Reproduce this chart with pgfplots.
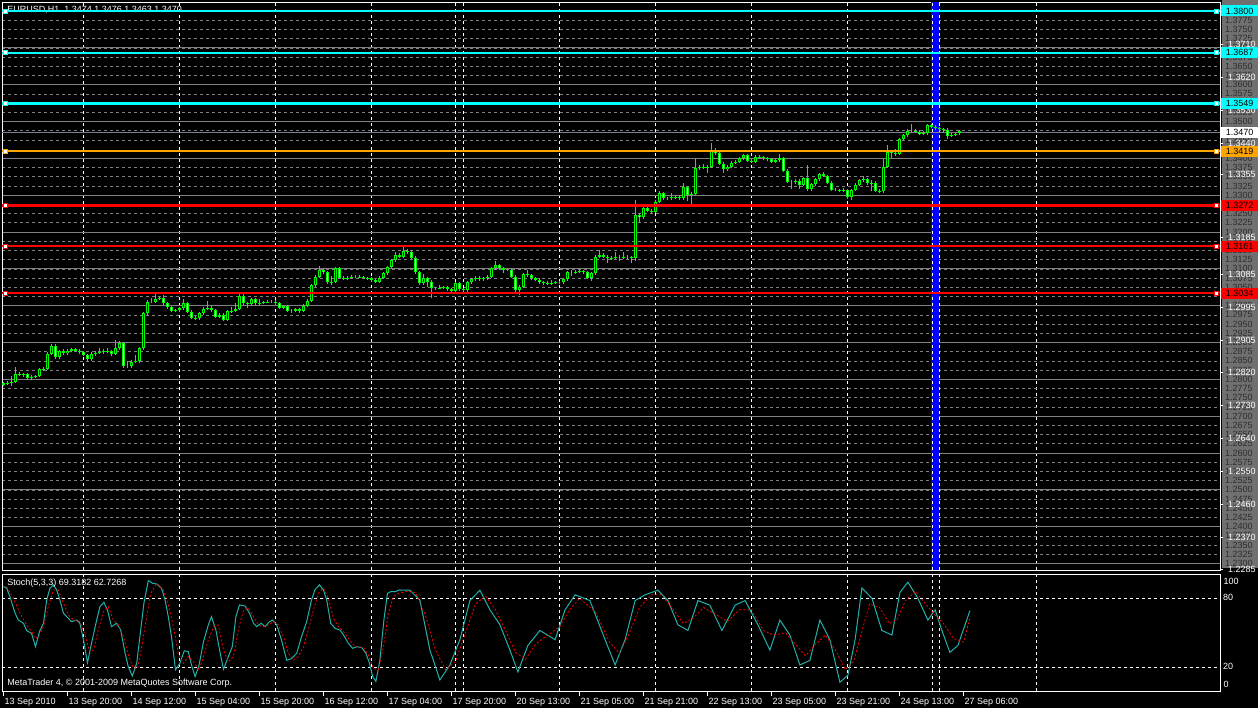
\documentclass[border=0pt]{standalone}
\usepackage{pgfplots}
\pgfplotsset{compat=1.18}
\usepackage{pgfplotstable}
\usepackage{fontspec}
\setmainfont{Liberation Sans}
\definecolor{mtgreen}{RGB}{0,255,0}
\definecolor{mtcyan}{RGB}{0,255,255}
\definecolor{mtorange}{RGB}{255,165,0}
\definecolor{mtred}{RGB}{255,0,0}
\definecolor{mtblue}{RGB}{0,0,255}
\definecolor{gridgray}{RGB}{128,128,128}
\definecolor{sigcyan}{RGB}{32,178,170}
\definecolor{scalegray}{RGB}{112,112,112}
\definecolor{dimtext}{RGB}{45,45,45}
\definecolor{bidgray}{RGB}{120,130,140}
\newcommand{\mtf}{\fontsize{9}{10}\selectfont}

\pgfplotstableread{
i o h l c
0 1.2785 1.2793 1.2781 1.2789
1 1.2789 1.2795 1.2785 1.2791
2 1.2791 1.2808 1.2781 1.2794
3 1.2794 1.2833 1.2790 1.2814
4 1.2814 1.2820 1.2808 1.2812
5 1.2812 1.2818 1.2806 1.2814
6 1.2814 1.2818 1.2798 1.2803
7 1.2803 1.2812 1.2797 1.2807
8 1.2807 1.2813 1.2803 1.2809
9 1.2809 1.2831 1.2805 1.2827
10 1.2827 1.2833 1.2822 1.2828
11 1.2828 1.2873 1.2825 1.2869
12 1.2869 1.2895 1.2865 1.2890
13 1.2890 1.2896 1.2856 1.2860
14 1.2860 1.2880 1.2856 1.2876
15 1.2876 1.2881 1.2866 1.2871
16 1.2871 1.2883 1.2867 1.2878
17 1.2878 1.2886 1.2874 1.2882
18 1.2882 1.2885 1.2874 1.2878
19 1.2878 1.2881 1.2870 1.2874
20 1.2874 1.2877 1.2862 1.2867
21 1.2867 1.2870 1.2848 1.2854
22 1.2854 1.2873 1.2850 1.2869
23 1.2869 1.2876 1.2864 1.2872
24 1.2872 1.2885 1.2868 1.2874
25 1.2874 1.2882 1.2870 1.2878
26 1.2878 1.2884 1.2872 1.2876
27 1.2876 1.2879 1.2862 1.2869
28 1.2869 1.2906 1.2865 1.2884
29 1.2884 1.2903 1.2880 1.2899
30 1.2899 1.2902 1.2832 1.2836
31 1.2836 1.2850 1.2832 1.2836
32 1.2836 1.2852 1.2830 1.2848
33 1.2848 1.2866 1.2844 1.2849
34 1.2849 1.2888 1.2845 1.2884
35 1.2884 1.2984 1.2880 1.2979
36 1.2979 1.3016 1.2975 1.3011
37 1.3011 1.3020 1.3006 1.3011
38 1.3011 1.3031 1.3008 1.3019
39 1.3019 1.3026 1.3015 1.3020
40 1.3020 1.3028 1.3002 1.3006
41 1.3006 1.3009 1.2991 1.2996
42 1.2996 1.2999 1.2982 1.2986
43 1.2986 1.2992 1.2982 1.2988
44 1.2988 1.2997 1.2984 1.2993
45 1.2993 1.3019 1.2989 1.3006
46 1.3006 1.3010 1.2980 1.2984
47 1.2984 1.2987 1.2963 1.2967
48 1.2967 1.2971 1.2960 1.2966
49 1.2966 1.2983 1.2962 1.2979
50 1.2979 1.2996 1.2975 1.2992
51 1.2992 1.3013 1.2988 1.2993
52 1.2993 1.3003 1.2984 1.2988
53 1.2988 1.2991 1.2966 1.2970
54 1.2970 1.2980 1.2966 1.2975
55 1.2975 1.2979 1.2957 1.2961
56 1.2961 1.2989 1.2957 1.2985
57 1.2985 1.2995 1.2981 1.2986
58 1.2986 1.3007 1.2982 1.2991
59 1.2991 1.3031 1.2987 1.3027
60 1.3027 1.3031 1.3002 1.3006
61 1.3006 1.3010 1.2993 1.3004
62 1.3004 1.3022 1.3000 1.3018
63 1.3018 1.3021 1.3002 1.3006
64 1.3006 1.3019 1.3003 1.3008
65 1.3008 1.3013 1.3004 1.3009
66 1.3009 1.3015 1.3006 1.3011
67 1.3011 1.3016 1.3006 1.3011
68 1.3011 1.3015 1.3002 1.3006
69 1.3006 1.3009 1.2990 1.2994
70 1.2994 1.3003 1.2990 1.2999
71 1.2999 1.3002 1.2982 1.2986
72 1.2986 1.2991 1.2981 1.2986
73 1.2986 1.2994 1.2982 1.2990
74 1.2990 1.2993 1.2979 1.2986
75 1.2986 1.3004 1.2982 1.3000
76 1.3000 1.3017 1.2996 1.3013
77 1.3013 1.3059 1.3009 1.3055
78 1.3055 1.3083 1.3051 1.3079
79 1.3079 1.3108 1.3075 1.3097
80 1.3097 1.3101 1.3087 1.3091
81 1.3091 1.3095 1.3059 1.3063
82 1.3063 1.3080 1.3055 1.3065
83 1.3065 1.3105 1.3061 1.3101
84 1.3101 1.3104 1.3072 1.3076
85 1.3076 1.3080 1.3070 1.3074
86 1.3074 1.3080 1.3070 1.3076
87 1.3076 1.3083 1.3072 1.3079
88 1.3079 1.3084 1.3075 1.3079
89 1.3079 1.3083 1.3074 1.3078
90 1.3078 1.3081 1.3072 1.3076
91 1.3076 1.3079 1.3070 1.3074
92 1.3074 1.3078 1.3065 1.3069
93 1.3069 1.3072 1.3061 1.3065
94 1.3065 1.3080 1.3061 1.3076
95 1.3076 1.3092 1.3072 1.3088
96 1.3088 1.3109 1.3084 1.3105
97 1.3105 1.3127 1.3101 1.3123
98 1.3123 1.3145 1.3119 1.3138
99 1.3138 1.3142 1.3129 1.3133
100 1.3133 1.3160 1.3129 1.3148
101 1.3148 1.3155 1.3140 1.3146
102 1.3146 1.3152 1.3126 1.3130
103 1.3130 1.3134 1.3087 1.3091
104 1.3091 1.3095 1.3057 1.3061
105 1.3061 1.3085 1.3057 1.3074
106 1.3074 1.3078 1.3050 1.3065
107 1.3065 1.3069 1.3021 1.3047
108 1.3047 1.3051 1.3043 1.3047
109 1.3047 1.3055 1.3044 1.3049
110 1.3049 1.3054 1.3045 1.3050
111 1.3050 1.3054 1.3041 1.3045
112 1.3045 1.3049 1.3036 1.3040
113 1.3040 1.3065 1.3036 1.3061
114 1.3061 1.3064 1.3041 1.3045
115 1.3045 1.3049 1.3038 1.3042
116 1.3042 1.3067 1.3038 1.3063
117 1.3063 1.3076 1.3059 1.3072
118 1.3072 1.3080 1.3068 1.3076
119 1.3076 1.3080 1.3068 1.3072
120 1.3072 1.3079 1.3068 1.3074
121 1.3074 1.3083 1.3070 1.3079
122 1.3079 1.3105 1.3075 1.3101
123 1.3101 1.3120 1.3097 1.3110
124 1.3110 1.3114 1.3097 1.3101
125 1.3101 1.3105 1.3090 1.3098
126 1.3098 1.3103 1.3093 1.3098
127 1.3098 1.3102 1.3075 1.3079
128 1.3079 1.3083 1.3038 1.3042
129 1.3042 1.3055 1.3030 1.3051
130 1.3051 1.3089 1.3047 1.3085
131 1.3085 1.3097 1.3078 1.3083
132 1.3083 1.3087 1.3070 1.3074
133 1.3074 1.3078 1.3066 1.3070
134 1.3070 1.3074 1.3059 1.3063
135 1.3063 1.3067 1.3055 1.3061
136 1.3061 1.3066 1.3057 1.3062
137 1.3062 1.3070 1.3057 1.3061
138 1.3061 1.3067 1.3058 1.3063
139 1.3063 1.3068 1.3059 1.3063
140 1.3063 1.3076 1.3059 1.3072
141 1.3072 1.3095 1.3068 1.3091
142 1.3091 1.3096 1.3080 1.3091
143 1.3091 1.3097 1.3087 1.3092
144 1.3092 1.3099 1.3089 1.3094
145 1.3094 1.3098 1.3087 1.3091
146 1.3091 1.3095 1.3072 1.3076
147 1.3076 1.3092 1.3068 1.3088
148 1.3088 1.3137 1.3084 1.3133
149 1.3133 1.3150 1.3129 1.3138
150 1.3138 1.3142 1.3129 1.3133
151 1.3133 1.3137 1.3117 1.3129
152 1.3129 1.3134 1.3125 1.3130
153 1.3130 1.3145 1.3126 1.3133
154 1.3133 1.3138 1.3120 1.3133
155 1.3133 1.3145 1.3127 1.3132
156 1.3132 1.3137 1.3126 1.3132
157 1.3132 1.3136 1.3115 1.3130
158 1.3130 1.3287 1.3120 1.3246
159 1.3246 1.3252 1.3228 1.3240
160 1.3240 1.3268 1.3236 1.3264
161 1.3264 1.3268 1.3254 1.3258
162 1.3258 1.3262 1.3250 1.3255
163 1.3255 1.3286 1.3251 1.3282
164 1.3282 1.3310 1.3278 1.3305
165 1.3305 1.3309 1.3287 1.3291
166 1.3291 1.3296 1.3286 1.3291
167 1.3291 1.3307 1.3288 1.3294
168 1.3294 1.3300 1.3290 1.3296
169 1.3296 1.3300 1.3287 1.3291
170 1.3291 1.3333 1.3287 1.3321
171 1.3321 1.3325 1.3285 1.3300
172 1.3300 1.3308 1.3268 1.3303
173 1.3303 1.3399 1.3299 1.3373
174 1.3373 1.3382 1.3369 1.3377
175 1.3377 1.3385 1.3371 1.3376
176 1.3376 1.3382 1.3360 1.3377
177 1.3377 1.3441 1.3373 1.3421
178 1.3421 1.3427 1.3410 1.3415
179 1.3415 1.3419 1.3381 1.3385
180 1.3385 1.3390 1.3360 1.3370
181 1.3370 1.3382 1.3366 1.3377
182 1.3377 1.3392 1.3373 1.3388
183 1.3388 1.3396 1.3384 1.3391
184 1.3391 1.3404 1.3387 1.3400
185 1.3400 1.3413 1.3396 1.3409
186 1.3409 1.3412 1.3390 1.3394
187 1.3394 1.3398 1.3386 1.3391
188 1.3391 1.3408 1.3387 1.3404
189 1.3404 1.3409 1.3398 1.3403
190 1.3403 1.3407 1.3396 1.3400
191 1.3400 1.3404 1.3392 1.3397
192 1.3397 1.3400 1.3387 1.3391
193 1.3391 1.3399 1.3387 1.3395
194 1.3395 1.3412 1.3391 1.3400
195 1.3400 1.3404 1.3362 1.3366
196 1.3366 1.3370 1.3333 1.3337
197 1.3337 1.3342 1.3318 1.3337
198 1.3337 1.3344 1.3331 1.3339
199 1.3339 1.3343 1.3318 1.3328
200 1.3328 1.3350 1.3324 1.3346
201 1.3346 1.3381 1.3312 1.3316
202 1.3316 1.3334 1.3312 1.3330
203 1.3330 1.3347 1.3326 1.3343
204 1.3343 1.3361 1.3339 1.3357
205 1.3357 1.3362 1.3348 1.3352
206 1.3352 1.3356 1.3330 1.3334
207 1.3334 1.3338 1.3310 1.3314
208 1.3314 1.3319 1.3310 1.3314
209 1.3314 1.3318 1.3308 1.3312
210 1.3312 1.3319 1.3309 1.3314
211 1.3314 1.3318 1.3290 1.3294
212 1.3294 1.3318 1.3288 1.3314
213 1.3314 1.3332 1.3310 1.3328
214 1.3328 1.3345 1.3324 1.3341
215 1.3341 1.3352 1.3337 1.3343
216 1.3343 1.3347 1.3328 1.3332
217 1.3332 1.3340 1.3310 1.3334
218 1.3334 1.3338 1.3308 1.3312
219 1.3312 1.3316 1.3305 1.3310
220 1.3310 1.3398 1.3306 1.3377
221 1.3377 1.3437 1.3373 1.3418
222 1.3418 1.3422 1.3400 1.3414
223 1.3414 1.3425 1.3405 1.3412
224 1.3412 1.3456 1.3408 1.3452
225 1.3452 1.3467 1.3448 1.3463
226 1.3463 1.3479 1.3459 1.3475
227 1.3475 1.3493 1.3470 1.3475
228 1.3475 1.3480 1.3468 1.3472
229 1.3472 1.3476 1.3462 1.3466
230 1.3466 1.3473 1.3462 1.3468
231 1.3468 1.3494 1.3464 1.3490
232 1.3490 1.3494 1.3482 1.3486
233 1.3486 1.3490 1.3478 1.3482
234 1.3482 1.3486 1.3475 1.3479
235 1.3479 1.3483 1.3468 1.3477
236 1.3477 1.3481 1.3452 1.3461
237 1.3461 1.3470 1.3458 1.3463
238 1.3463 1.3471 1.3460 1.3466
239 1.3474 1.3476 1.3463 1.3470
}\candles

\pgfplotstableread{
lv
1.3800
1.3687
1.3549
}\cyanlevels
\pgfplotstableread{
lv
1.3419
}\orangelevels
\pgfplotstableread{
lv
1.3272
1.3161
1.3034
}\redlevels

\pgfplotsset{
  mtpanel/.style={
    at={(2pt,138pt)}, anchor=south west, scale only axis,
    width=1218pt, height=567.5pt,
    xmin=-0.375, xmax=304.125, ymin=1.22823, ymax=1.38231,
  },
  vgrid/.style={
    xtick={20,44,68,92,113,115,139,163,187,211,232.1,234,258.1},
    xticklabels={}, xmajorgrids,
    major x grid style={white, line width=0.7pt, dash pattern=on 3pt off 3pt},
  },
  lvband/.style={draw=none, fill=#1},
}

\begin{document}
\begin{tikzpicture}[x=1pt,y=1pt]
\path[use as bounding box] (0,0) rectangle (1258,708);
\fill[black] (0,0) rectangle (1258,708);
\fill[scalegray] (1221.7,140) rectangle (1258,708);

% ---------- main price panel: grid and data ----------
\begin{axis}[mtpanel, vgrid,
  axis line style={white, line width=0.8pt},
  major tick length=0pt, minor tick length=0pt,
  ytick={1.2300,1.2325,1.2350,1.2375,1.2400,1.2425,1.2450,1.2475,1.2500,1.2525,1.2550,1.2575,1.2600,1.2625,1.2650,1.2675,1.2700,1.2725,1.2750,1.2775,1.2800,1.2825,1.2850,1.2875,1.2900,1.2925,1.2950,1.2975,1.3000,1.3025,1.3050,1.3075,1.3100,1.3125,1.3150,1.3175,1.3200,1.3225,1.3250,1.3300,1.3325,1.3350,1.3375,1.3400,1.3450,1.3475,1.3500,1.3525,1.3575,1.3600,1.3625,1.3650,1.3675,1.3700,1.3725,1.3750,1.3775},
  yticklabels={},
  ymajorgrids, major y grid style={gridgray, line width=0.6pt, dash pattern=on 3pt off 3pt},
  minor ytick={1.23,1.24,1.25,1.26,1.27,1.28,1.29,1.30,1.31,1.32,1.33,1.34,1.35,1.36,1.37}, yminorgrids,
  minor y grid style={gridgray, line width=0.9pt},
]
% blue vertical band
\addplot[draw=none, fill=mtblue] coordinates {(231.9,1.22823) (234.0,1.22823) (234.0,1.38231) (231.9,1.38231)} -- cycle;
\addplot[white, line width=0.7pt, dash pattern=on 3pt off 3pt] coordinates {(232.1,1.22823) (232.1,1.38231)};
\addplot[white, line width=0.7pt, dash pattern=on 3pt off 3pt] coordinates {(234,1.22823) (234,1.38231)};
% bid line
\addplot[bidgray, line width=0.8pt] coordinates {(-0.375,1.3470) (304.125,1.3470)};
% candles: wicks
\addplot[mtgreen, line width=1pt,
  quiver={u=0, v=\thisrow{h}-\thisrow{l}, every arrow/.append style={-}}]
  table[x=i, y=l] {\candles};
% candles: bodies
\addplot[mtgreen, line width=3pt,
  quiver={u=0, v=\thisrow{c}-\thisrow{o}, every arrow/.append style={-}}]
  table[x=i, y=o] {\candles};
% bear bodies: white core
\addplot[white, line width=1pt,
  restrict expr to domain={\thisrow{o}-\thisrow{c}}{0.0006:1},
  quiver={u=0, v=\thisrow{c}-\thisrow{o}, every arrow/.append style={-, shorten <=1pt, shorten >=1pt}}]
  table[x=i, y=o] {\candles};
% bull bodies: black core
\addplot[black, line width=1pt,
  restrict expr to domain={\thisrow{c}-\thisrow{o}}{0.0006:1},
  quiver={u=0, v=\thisrow{c}-\thisrow{o}, every arrow/.append style={-, shorten <=1pt, shorten >=1pt}}]
  table[x=i, y=o] {\candles};
% title
\node[anchor=west, text=white, font=\mtf, inner sep=0pt] at (axis cs:0.9,1.38030) {EURUSD,H1\ \ 1.3474 1.3476 1.3463 1.3470};
\end{axis}

% ---------- price scale labels ----------
\begin{axis}[mtpanel,
  axis line style={draw=none},
  xtick=\empty, ytick pos=right,
  ytick={1.2300,1.2325,...,1.3775},
  yticklabel={\pgfmathprintnumber[fixed,fixed zerofill,precision=4,assume math mode=true]{\tick}},
  major tick length=0pt,
  yticklabel style={font=\mtf, text=dimtext, anchor=west, inner sep=0pt, xshift=5pt},
  extra y ticks={1.3710,1.3620,1.3530,1.3440,1.3355,1.3270,1.3185,1.3085,1.2995,1.2905,1.2820,1.2730,1.2640,1.2550,1.2460,1.2370,1.2285},
  extra y tick labels={1.3710,1.3620,1.3530,1.3440,1.3355,1.3270,1.3185,1.3085,1.2995,1.2905,1.2820,1.2730,1.2640,1.2550,1.2460,1.2370,1.2285},
  extra y tick style={grid=none, major tick length=3pt, tick align=outside, tick style={white, line width=0.8pt}, yticklabel style={text=white}},
]
\end{axis}

% ---------- stochastic panel ----------
\begin{axis}[
  at={(2pt,17pt)}, anchor=south west, scale only axis,
  width=1218pt, height=117pt,
  xmin=-0.375, xmax=304.125, ymin=-0.6, ymax=101.1, clip=false,
  axis line style={white, line width=0.8pt},
  vgrid,
  ytick={20,80}, yticklabels={}, ymajorgrids,
  major y grid style={white, line width=0.7pt, dash pattern=on 3pt off 3pt},
  major tick length=0pt, xtick pos=bottom, ytick pos=right,
  extra x ticks={0,16,32,48,64,80,96,112,128,144,160,176,192,208,224,240},
  extra x tick labels={13 Sep 2010,13 Sep 20:00,14 Sep 12:00,15 Sep 04:00,15 Sep 20:00,16 Sep 12:00,17 Sep 04:00,17 Sep 20:00,20 Sep 13:00,21 Sep 05:00,21 Sep 21:00,22 Sep 13:00,23 Sep 05:00,23 Sep 21:00,24 Sep 13:00,27 Sep 06:00},
  extra x tick style={grid=none, major tick length=5pt, tick align=outside, tick style={white, line width=0.8pt},
    xticklabel style={anchor=north west, inner sep=0pt, xshift=1pt, yshift=-2pt, text=white, font=\mtf}},
]
\addplot[sigcyan, line width=1pt] coordinates {
(0,90.1) (0.8,88.7) (1.6,81.4) (2.9,67) (3.7,61.1) (5,58.3) (5.8,51.8) (7,49.6) (8,37.9) (9,51) (10,58.3) (10.8,78.5) (11.6,88.7) (12.5,91.6) (13.3,87.2) (14.1,78.5) (15,67) (15.8,64) (17,59.7) (18.3,61.1) (19.1,58.3) (20,43.7) (21,24) (22,40.9) (23.3,61.1) (24.1,72.7) (25.1,76.5) (26,69.8) (27,55.3) (28.3,58.3) (29.3,52.4) (30.4,32.2) (31.2,20.5) (32.2,12.4) (33.3,23.5) (34.1,46.6) (35.1,75.7) (36.2,95.3) (37.3,93) (38.3,92.4) (39.5,88.7) (40.4,78.5) (41.2,64) (42,46.6) (43,17.7) (44.1,23.5) (45.2,34.4) (46.2,33.6) (47,22) (47.9,11.9) (48.9,22) (50,42.3) (51.2,56.8) (52,64) (53.1,52.4) (54.1,33.6) (55,18.3) (56.2,29.2) (57.2,37.9) (58.1,64) (59,74.2) (60.4,73.3) (61.5,67) (62.5,58.3) (63.3,55.3) (64.4,58.3) (65.4,55.3) (66.5,59.7) (67.3,61.1) (68.3,56.8) (69.5,43.7) (70.8,26.1) (72,27.5) (73.3,32.2) (74.5,46.6) (75.8,59.7) (77,78.5) (77.9,87.7) (79,91.6) (80,87.2) (80.8,78.5) (81.8,58.3) (82.9,53.9) (84.1,52.4) (85,48.1) (86.2,40.9) (87.3,36.5) (88.3,37.9) (89.5,37.3) (90.6,32.2) (91.5,23.5) (92.3,11.9) (93.1,7.7) (94.1,26.1) (95.1,61.1) (96,84.3) (96.8,85.7) (97.9,85.7) (99,87.2)
(101.6,87) (104.1,78.5) (106.6,35) (109.1,9) (111.6,22) (114.1,44) (116.6,78) (119.1,87) (121.6,70) (124.1,57) (126.6,35) (128.6,16) (131.1,39) (134.1,52) (137.9,44) (140.4,70) (142.9,83) (146.6,78) (150.4,44) (152.9,22) (155.4,44) (157.9,78) (160.4,83) (163.6,87) (166.1,78) (168.6,57) (171.1,52) (173.6,78) (176.6,74) (179.6,52) (182.9,74) (185.4,78) (188.6,57) (191.6,35) (194.1,61) (196.6,48) (199.1,22) (201.6,26) (204.1,61) (206.6,44) (209.1,7) (211.1,13) (212.9,44) (214.6,89) (217.1,80) (219.6,52) (222.1,48) (224.1,85) (226.1,94) (228.6,80) (231.1,61) (232.9,70) (234.6,52) (236.6,33) (238.6,39) (240.4,57) (241.6,69.3)
};
\addplot[mtred, line width=0.8pt, dash pattern=on 2pt off 2pt] coordinates {
(0.79,90.1) (2.46,80) (4.13,67) (5.79,56.8) (7.04,51) (7.88,45.2) (8.71,46.6) (9.96,55.3) (11.2,72.7) (12.5,87.2) (13.7,87.2) (15,75.7) (16.2,65.5) (17.5,61.1) (19.1,59.7) (20.4,48.1) (21.5,33.6) (22.5,35) (23.7,52.4) (25,68.4) (26.2,72.7) (27.5,61.1) (28.7,56.8) (30,46.6) (31.2,30.7) (32.5,19.1) (33.5,19.1) (34.5,36.5) (35.8,64) (36.8,84.3) (38.3,93) (40,87.2) (41.2,74.2) (42.5,55.3) (43.7,32.2) (45,23.5) (46.2,29.3) (47.5,24.9) (48.9,17.7) (50,29.3) (51.2,43.7) (52.5,55.3) (53.7,56.8) (55,35) (56.2,24.9) (57.5,29.3) (58.7,52.4) (60,69.8) (61.2,71.3) (62.5,64) (63.7,56.8) (65,55.3) (66.2,56.8) (67.5,59.7) (68.7,56.8) (70,46.6) (71.2,32.2) (72.5,26.4) (73.7,29.3) (75,37.9) (76.2,52.4) (77.5,69.8) (78.7,84.3) (80,88.7) (81.2,80) (82.5,62.6) (83.7,55.3) (85,51) (86.2,45.2) (87.5,39.4) (88.7,37.4) (90,37.4) (91.2,30.7) (92.5,19.1) (93.7,17.7) (95,37.9) (96.2,67) (97.5,81.4) (98.7,84.3)
(101,86) (103,85) (105.5,65) (108,35) (110.5,18) (113,25) (115.5,50) (118,75) (120.5,82) (123,70) (125.5,52) (128,33) (130.5,27) (133,40) (136,48) (139,55) (141.5,70) (144,80) (148,68) (151.5,42) (154,32) (156.5,50) (159,72) (162,83) (164.5,83) (167.5,70) (170,58) (172.5,63) (175,72) (178,66) (181,60) (184,70) (187,70) (190,52) (192.5,48) (195.5,50) (198,40) (200.5,30) (203,40) (205.5,48) (208,35) (210.5,18) (212.5,25) (214.5,50) (216.5,75) (219,72) (221.5,58) (223.5,62) (225.5,78) (228,86) (230.5,75) (233,65) (235,58) (237.5,45) (240,42) (241.6,62.7)
};
\node[anchor=west, text=white, font=\mtf, inner sep=0pt] at (axis cs:0.9,93.3) {Stoch(5,3,3) 69.3182 62.7268};
\node[anchor=west, text=white, font=\mtf, inner sep=0pt] at (axis cs:0.9,6.3) {MetaTrader 4, © 2001-2009 MetaQuotes Software Corp.};
\node[anchor=west, text=white, font=\mtf, inner sep=0pt, xshift=3.5pt] at (axis cs:304.125,95) {100};
\node[anchor=west, text=white, font=\mtf, inner sep=0pt, xshift=3pt] at (axis cs:304.125,80.5) {80};
\node[anchor=west, text=white, font=\mtf, inner sep=0pt, xshift=3pt] at (axis cs:304.125,20.5) {20};
\node[anchor=west, text=white, font=\mtf, inner sep=0pt, xshift=3.5pt] at (axis cs:304.125,5.5) {0};
\end{axis}

% ---------- level lines (filled bands), markers and coloured price boxes: drawn last ----------
\begin{axis}[mtpanel, hide axis, clip=false]
\addplot[lvband=mtcyan] coordinates {(-0.375,1.3797) (304.125,1.3797) (304.125,1.3803) (-0.375,1.3803)} -- cycle;
\addplot[lvband=mtcyan] coordinates {(-0.375,1.3684) (304.125,1.3684) (304.125,1.3690) (-0.375,1.3690)} -- cycle;
\addplot[lvband=mtcyan] coordinates {(-0.375,1.3546) (304.125,1.3546) (304.125,1.3552) (-0.375,1.3552)} -- cycle;
\addplot[lvband=mtorange] coordinates {(-0.375,1.3416) (304.125,1.3416) (304.125,1.3422) (-0.375,1.3422)} -- cycle;
\addplot[lvband=mtred] coordinates {(-0.375,1.3269) (304.125,1.3269) (304.125,1.3275) (-0.375,1.3275)} -- cycle;
\addplot[lvband=mtred] coordinates {(-0.375,1.3158) (304.125,1.3158) (304.125,1.3164) (-0.375,1.3164)} -- cycle;
\addplot[lvband=mtred] coordinates {(-0.375,1.3031) (304.125,1.3031) (304.125,1.3037) (-0.375,1.3037)} -- cycle;
\addplot[only marks, mark=square*, mark size=2pt, mark options={fill=white, draw=mtcyan, line width=0.9pt}] table[x expr=0.375, y=lv] {\cyanlevels};
\addplot[only marks, mark=square*, mark size=2pt, mark options={fill=white, draw=mtcyan, line width=0.9pt}] table[x expr=303.3, y=lv] {\cyanlevels};
\addplot[only marks, mark=square*, mark size=2pt, mark options={fill=white, draw=mtorange, line width=0.9pt}] table[x expr=0.375, y=lv] {\orangelevels};
\addplot[only marks, mark=square*, mark size=2pt, mark options={fill=white, draw=mtorange, line width=0.9pt}] table[x expr=303.3, y=lv] {\orangelevels};
\addplot[only marks, mark=square*, mark size=2pt, mark options={fill=white, draw=mtred, line width=0.9pt}] table[x expr=0.375, y=lv] {\redlevels};
\addplot[only marks, mark=square*, mark size=2pt, mark options={fill=white, draw=mtred, line width=0.9pt}] table[x expr=303.3, y=lv] {\redlevels};
\tikzset{pbox/.style={anchor=west, xshift=1.2pt, minimum width=36.3pt, minimum height=11pt, inner sep=0pt, font=\mtf, text=black}}
\node[pbox, fill=mtcyan] at (axis cs:304.125,1.3800) {1.3800};
\node[pbox, fill=mtcyan] at (axis cs:304.125,1.3687) {1.3687};
\node[pbox, fill=mtcyan] at (axis cs:304.125,1.3549) {1.3549};
\node[pbox, fill=white] at (axis cs:304.125,1.3470) {1.3470};
\node[pbox, fill=mtorange] at (axis cs:304.125,1.3419) {1.3419};
\node[pbox, fill=mtred] at (axis cs:304.125,1.3272) {1.3272};
\node[pbox, fill=mtred] at (axis cs:304.125,1.3161) {1.3161};
\node[pbox, fill=mtred] at (axis cs:304.125,1.3034) {1.3034};
\end{axis}
\end{tikzpicture}
\end{document}
